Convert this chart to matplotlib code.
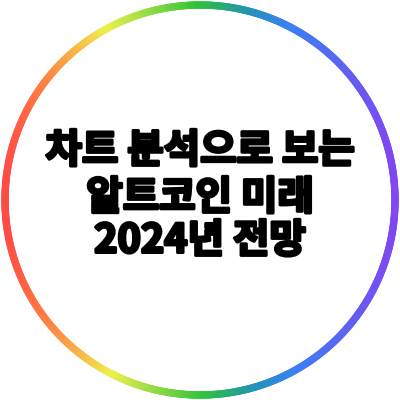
import numpy as np
import matplotlib
matplotlib.use("Agg")
import matplotlib.pyplot as plt
import matplotlib.patheffects as pe
from matplotlib.collections import LineCollection
from matplotlib.colors import LinearSegmentedColormap

# title lines
lines = ["차트 분석으로 보는", "알트코인 미래", "2024년 전망"]
line_y = [151, 198, 241]

# ring gradient stops (left -> right across the picture)
stop_pos = [0.0, 0.13, 0.27, 0.5, 0.63, 0.73, 1.0]
stop_colors = ["#ff4545", "#ff8a42", "#eef04e", "#2ec33a", "#2392b8", "#3a80f5", "#8344f2"]

ring_cx, ring_cy, ring_r = 200, 200, 195

cmap = LinearSegmentedColormap.from_list("ring", list(zip(stop_pos, stop_colors)))

fig = plt.figure(figsize=(4, 4), dpi=100)
ax = fig.add_axes([0, 0, 1, 1])
ax.set_xlim(0, 400)
ax.set_ylim(400, 0)
ax.set_aspect("equal")
ax.axis("off")

# gradient ring as many short segments coloured by x position
t = np.linspace(0, 2 * np.pi, 721)
xs = ring_cx + ring_r * np.cos(t)
ys = ring_cy + ring_r * np.sin(t)
pts = np.column_stack([xs, ys]).reshape(-1, 1, 2)
segs = np.concatenate([pts[:-1], pts[1:]], axis=1)
mid_x = (xs[:-1] + xs[1:]) / 2
lc = LineCollection(segs, colors=cmap(mid_x / 400), linewidths=5.3, capstyle="round")
ax.add_collection(lc)

# heavier strokes to get close to the black display face
heavy = [pe.Stroke(linewidth=2.2, foreground="#000000"), pe.Normal()]
for txt, y in zip(lines, line_y):
    ax.text(200, y, txt, ha="center", va="center", fontsize=28.5,
            family=["Noto Sans CJK KR", "DejaVu Sans"], weight="black",
            color="#000000", path_effects=heavy)

fig.savefig("out.png", dpi=100, facecolor="white")
